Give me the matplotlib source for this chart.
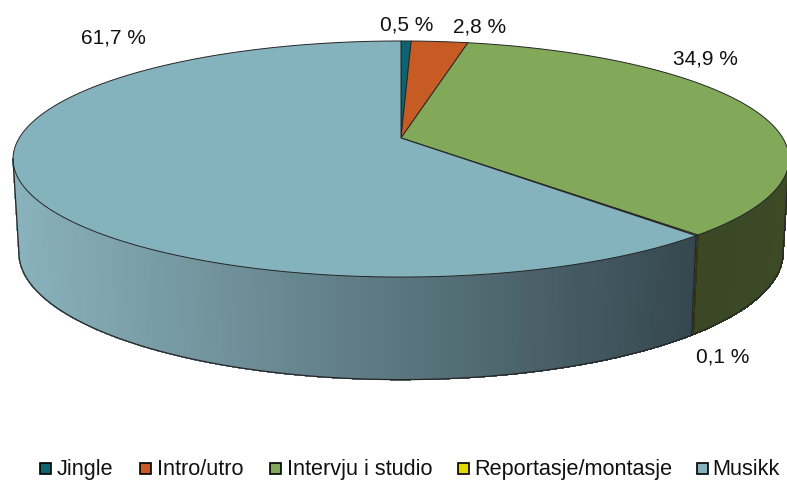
import matplotlib
matplotlib.use('Agg')
import matplotlib.pyplot as plt
import numpy as np
from matplotlib.collections import PolyCollection
from matplotlib.patches import Polygon, Rectangle

categories = ['Jingle', 'Intro/utro', 'Intervju i studio', 'Reportasje/montasje', 'Musikk']
values = [0.5, 2.8, 34.9, 0.1, 61.7]
value_labels = ['0,5 %', '2,8 %', '34,9 %', '0,1 %', '61,7 %']
colors = ['#0B6470', '#C75B24', '#82A95A', '#E5D900', '#85B3BD']

plt.rcParams['font.family'] = ['Liberation Sans', 'DejaVu Sans']

# pixel layout of the projected pie
CX = 401
TOP_Y, TOP_RX, TOP_RY = 139, 381.8, 114.3
BASE_Y, BASE_RX, BASE_RY = 231, 376, 123
PERSP = 0.178
EDGE = '#262626'

label_pos = [(407, 25), (480, 27), (705, 59), (723, 357), (113, 38)]
legend_box_x = [40, 140, 270, 458, 697]
legend_text_x = [57, 157, 287, 474, 712]


def project(angle, y0, rx, ry):
    # angle in radians, clockwise from the top
    w = 1 + PERSP * np.cos(angle)
    return CX + rx * np.sin(angle) / w, y0 - ry * np.cos(angle) / w


def ring(a0, a1, y0, rx, ry, n=200):
    a = np.linspace(a0, a1, n)
    return np.column_stack(project(a, y0, rx, ry))


def draw_side(ax, a0, a1, color_from, color_to):
    # wall between two angles, shaded by thin slices
    n = max(int(np.degrees(a1 - a0)), 2)
    edges = np.linspace(a0, a1, n + 1)
    xt, yt = project(edges, TOP_Y, TOP_RX, TOP_RY)
    xb, yb = project(edges, BASE_Y, BASE_RX, BASE_RY)
    quads = []
    cols = []
    for i in range(n):
        quads.append([(xt[i], yt[i]), (xt[i + 1], yt[i + 1]), (xb[i + 1], yb[i + 1]), (xb[i], yb[i])])
        f = (xt[i] + xt[i + 1] - 2 * xt[0]) / 2 / (xt[-1] - xt[0])
        cols.append(np.array(color_from) * (1 - f) + np.array(color_to) * f)
    ax.add_collection(PolyCollection(quads, facecolors=cols, edgecolors=cols, linewidths=0.6, antialiaseds=False))
    ax.plot(*ring(a0, a1, BASE_Y, BASE_RX, BASE_RY).T, color=EDGE, lw=0.9)


def main():
    fig = plt.figure(figsize=(7.87, 4.81), dpi=100)
    ax = fig.add_axes([0, 0, 1, 1])
    ax.set_xlim(0, 787)
    ax.set_ylim(481, 0)
    ax.axis('off')

    cum = np.cumsum([0] + values) / sum(values) * 2 * np.pi

    # side walls: green to the right, thin yellow seam, musikk around the front
    side_start = np.arccos(-PERSP)
    side_end = 2 * np.pi - side_start
    draw_side(ax, side_start, cum[3], (0.235, 0.29, 0.15), (0.23, 0.28, 0.145))
    draw_side(ax, cum[3], cum[4], (0.20, 0.20, 0.05), (0.20, 0.20, 0.05))
    draw_side(ax, cum[4], side_end, (0.21, 0.28, 0.31), (0.54, 0.70, 0.74))

    # outer silhouette of the walls and the seam at the front
    for a in (side_start, cum[4], side_end):
        x, y = project(a, TOP_Y, TOP_RX, TOP_RY)
        xb, yb = project(a, BASE_Y, BASE_RX, BASE_RY)
        ax.plot([x, xb], [y, yb], color=EDGE, lw=0.9)

    # top face
    for i, c in enumerate(colors):
        pts = np.vstack([[CX, TOP_Y], ring(cum[i], cum[i + 1], TOP_Y, TOP_RX, TOP_RY)])
        ax.add_patch(Polygon(pts, closed=True, facecolor=c, edgecolor=EDGE, lw=0.7))

    for text, (x, y) in zip(value_labels, label_pos):
        ax.text(x, y, text, fontsize=15, ha='center', va='center', color='#111111')

    # legend
    for name, c, bx, tx in zip(categories, colors, legend_box_x, legend_text_x):
        ax.add_patch(Rectangle((bx, 463.5), 11, 11, facecolor=c, edgecolor='black', lw=1.2))
        ax.text(tx, 469.5, name, fontsize=15.6, ha='left', va='center', color='#111111')

    fig.savefig('out.png', dpi=100)
    plt.close(fig)


if __name__ == "__main__":
    main()
